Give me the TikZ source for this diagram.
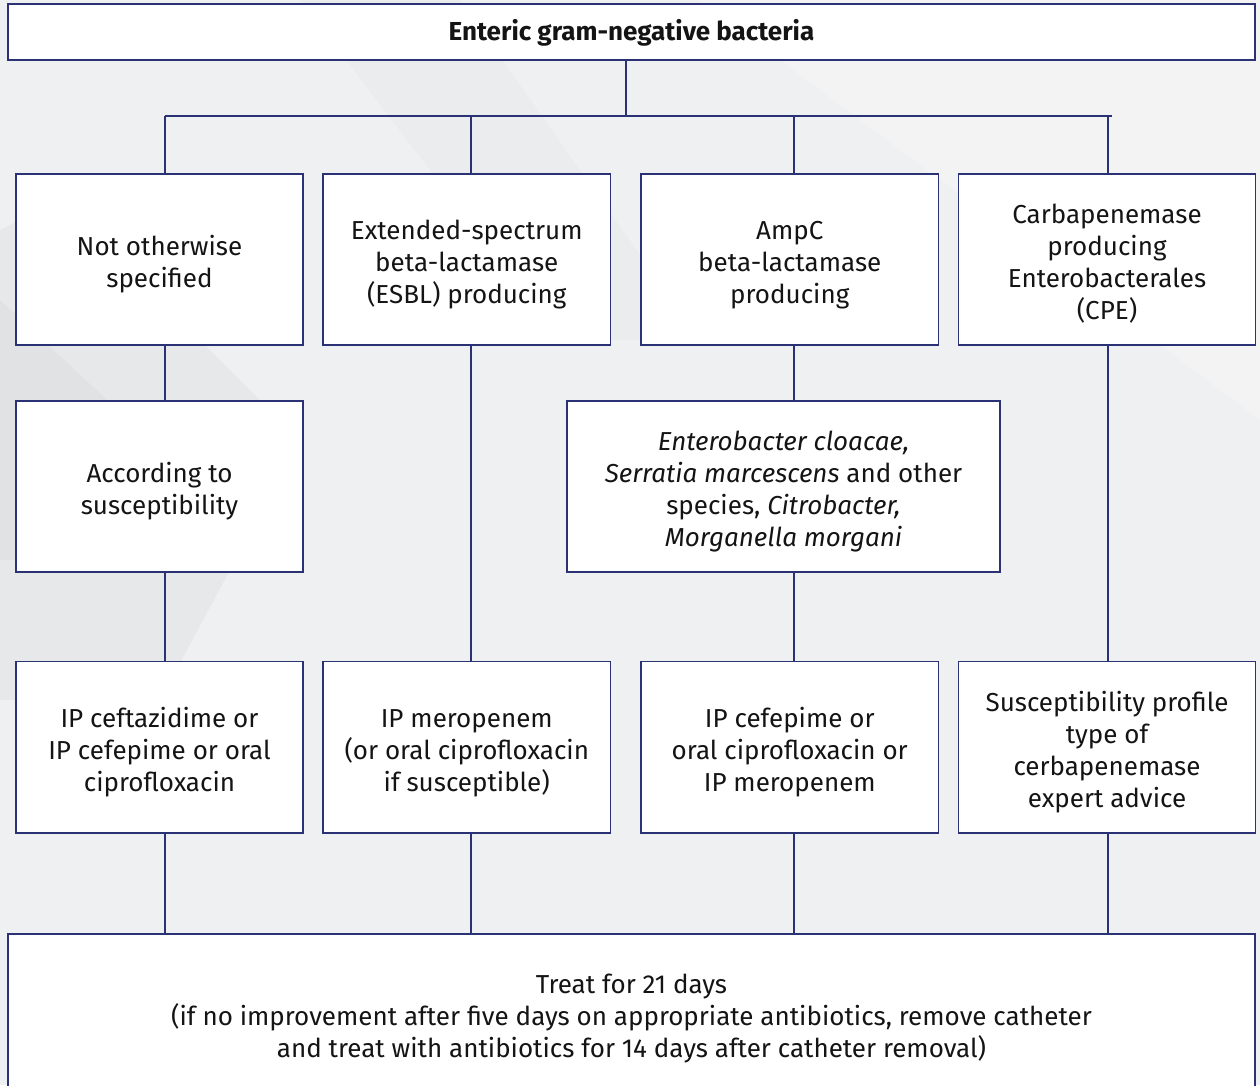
\documentclass[tikz,border=0pt]{standalone}
\usepackage{fontspec}
\setmainfont{Fira Sans}
\usetikzlibrary{calc}
\definecolor{navy}{RGB}{43,49,117}
\definecolor{bg}{RGB}{239,240,241}
\definecolor{txt}{RGB}{20,20,20}
\newcommand{\lowtext}[2][5.5pt]{\raisebox{-#1}[\height][\depth]{\begin{tabular}{@{}c@{}}#2\end{tabular}}}
\begin{document}
\begin{tikzpicture}[x=1pt,y=-1pt,
  box/.style={draw=navy,line width=1.3pt,fill=white,rectangle,inner sep=0pt,
    align=center,text=txt,font=\fontsize{26}{32}\selectfont},
  link/.style={draw=navy,line width=1.1pt}]
\useasboundingbox (0,0) rectangle (1260,1085);
\clip (0,0) rectangle (1260,1085);
\fill[bg] (0,0) rectangle (1260,1085);
% subtle background shading
\fill[gray,opacity=0.07] (0,230) -- (60,200) -- (300,440) -- (160,700) -- (0,700) -- cycle;
\fill[gray,opacity=0.05] (0,300) -- (150,440) -- (60,560) -- (0,560) -- cycle;
\fill[white,opacity=0.25] (700,0) -- (1260,0) -- (1260,420) -- cycle;
\fill[gray,opacity=0.035] (300,0) -- (460,0) -- (700,340) -- (560,340) -- cycle;

% nodes
\node[box,minimum width=1247,minimum height=56] (top) at (631.5,32)
  {\lowtext[2pt]{\bfseries Enteric gram-negative bacteria}};

\node[box,minimum width=287,minimum height=171] (r1a) at (159.5,259.5)
  {\lowtext{Not otherwise\\specified}};
\node[box,minimum width=287.5,minimum height=171] (r1b) at (466.75,259.5)
  {\lowtext{Extended-spectrum\\beta-lactamase\\(ESBL) producing}};
\node[box,minimum width=297.5,minimum height=171] (r1c) at (789.75,259.5)
  {\lowtext{AmpC\\beta-lactamase\\producing}};
\node[box,minimum width=297,minimum height=171] (r1d) at (1107,259.5)
  {\lowtext{Carbapenemase\\producing\\Enterobacterales\\(CPE)}};

\node[box,minimum width=287,minimum height=171] (r2a) at (159.5,486.5)
  {\lowtext{According to\\susceptibility}};
\node[box,minimum width=433,minimum height=171] (r2c) at (783.5,486.5)
  {\lowtext{\textit{Enterobacter cloacae,}\\\textit{Serratia marcescens} and other\\species, \textit{Citrobacter,}\\\textit{Morganella morgani}}};

\node[box,minimum width=287,minimum height=171.5] (r3a) at (159.5,747.25)
  {\lowtext{IP ceftazidime or\\IP cefepime or oral\\ciprofloxacin}};
\node[box,minimum width=287.5,minimum height=171.5] (r3b) at (466.75,747.25)
  {\lowtext{IP meropenem\\(or oral ciprofloxacin\\if susceptible)}};
\node[box,minimum width=297.5,minimum height=171.5] (r3c) at (789.75,747.25)
  {\lowtext{IP cefepime or\\oral ciprofloxacin or\\IP meropenem}};
\node[box,minimum width=297,minimum height=171.5] (r3d) at (1107,747.25)
  {\lowtext{Susceptibility profile\\type of\\cerbapenemase\\expert advice}};

\node[box,minimum width=1247,minimum height=180] (bot) at (631.5,1024)
  {};
\node[text=txt,align=center,font=\fontsize{26}{32}\selectfont,anchor=center] (bottxt) at (631.5,1018)
  {Treat for 21 days\\(if no improvement after five days on appropriate antibiotics, remove catheter\\and treat with antibiotics for 14 days after catheter removal)};

% column anchor points
\coordinate (ca) at ([xshift=5.5]r1a.north);
\coordinate (cb) at ([xshift=4.25]r1b.north);
\coordinate (cc) at ([xshift=4.25]r1c.north);
\coordinate (cd) at ([xshift=1]r1d.north);

% bus
\coordinate (busL) at (165,116);
\coordinate (busR) at (1112,116);
\coordinate (busM) at (626,116);
\draw[link] ([xshift=-5.5]top.south) -- (busM);
\draw[link] (busL) -- (busR);
\draw[link] (busL -| ca) -- (ca);
\draw[link] (busL -| cb) -- (cb);
\draw[link] (busL -| cc) -- (cc);
\draw[link] (busL -| cd) -- (cd);

% verticals
\draw[link] (r1a.south -| ca) -- (r2a.north -| ca);
\draw[link] (r2a.south -| ca) -- (r3a.north -| ca);
\draw[link] (r1b.south -| cb) -- (r3b.north -| cb);
\draw[link] (r1c.south -| cc) -- (r2c.north -| cc);
\draw[link] (r2c.south -| cc) -- (r3c.north -| cc);
\draw[link] (r1d.south -| cd) -- (r3d.north -| cd);

\draw[link] (r3a.south -| ca) -- (bot.north -| ca);
\draw[link] (r3b.south -| cb) -- (bot.north -| cb);
\draw[link] (r3c.south -| cc) -- (bot.north -| cc);
\draw[link] (r3d.south -| cd) -- (bot.north -| cd);
\end{tikzpicture}
\end{document}
